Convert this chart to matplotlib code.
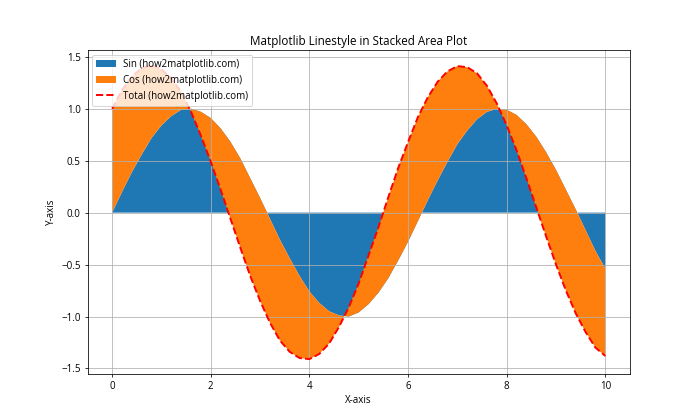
import matplotlib
matplotlib.use('Agg')
import matplotlib.pyplot as plt
import numpy as np

plt.rcParams['font.family'] = ['Open Sans', 'DejaVu Sans']

x = np.arange(0, 10.01, 0.2)

sin_vals = [0.00, 0.20, 0.39, 0.56, 0.72, 0.84, 0.93, 0.99, 1.00, 0.97,
            0.91, 0.81, 0.68, 0.52, 0.33, 0.14, -0.06, -0.26, -0.44, -0.61,
            -0.76, -0.87, -0.95, -0.99, -1.00, -0.96, -0.88, -0.77, -0.63, -0.46,
            -0.28, -0.08, 0.12, 0.31, 0.49, 0.66, 0.79, 0.90, 0.97, 1.00,
            0.99, 0.94, 0.85, 0.73, 0.58, 0.41, 0.22, 0.03, -0.17, -0.37,
            -0.54]

cos_vals = [1.00, 0.98, 0.92, 0.83, 0.70, 0.54, 0.36, 0.17, -0.03, -0.23,
            -0.42, -0.59, -0.74, -0.86, -0.94, -0.99, -1.00, -0.97, -0.90, -0.79,
            -0.65, -0.49, -0.31, -0.11, 0.09, 0.28, 0.47, 0.63, 0.78, 0.89,
            0.96, 1.00, 0.99, 0.95, 0.87, 0.75, 0.61, 0.44, 0.25, 0.05,
            -0.15, -0.34, -0.52, -0.68, -0.81, -0.91, -0.97, -1.00, -0.98, -0.93,
            -0.84]

sin_vals = np.array(sin_vals)
cos_vals = np.array(cos_vals)

fig = plt.figure(figsize=(10, 6), dpi=70)
plt.stackplot(x, sin_vals, cos_vals,
              labels=['Sin (how2matplotlib.com)', 'Cos (how2matplotlib.com)'])
plt.plot(x, sin_vals + cos_vals, color='red', linestyle='--', linewidth=2,
         label='Total (how2matplotlib.com)')

plt.title('Matplotlib Linestyle in Stacked Area Plot')
plt.xlabel('X-axis')
plt.ylabel('Y-axis')
plt.legend(loc='upper left')
plt.grid(True)

plt.savefig('out.png', dpi=70)
